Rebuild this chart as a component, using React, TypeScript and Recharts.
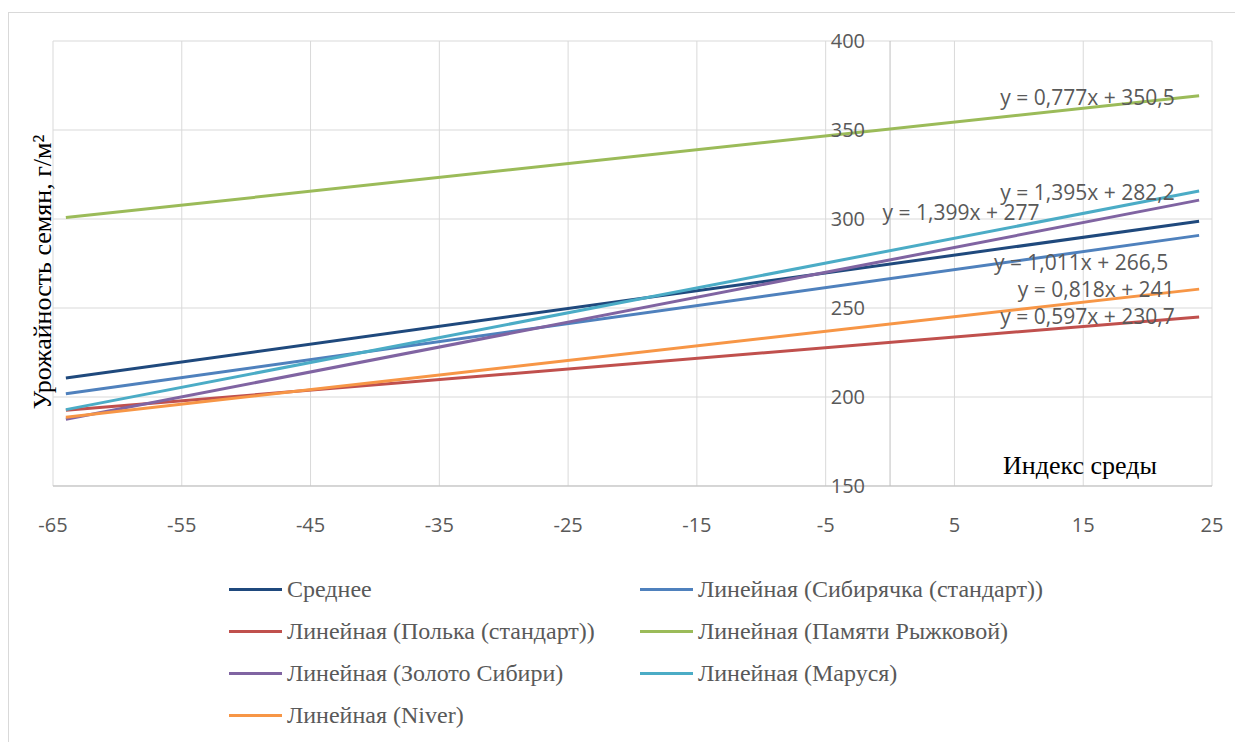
import React from 'react';
import { LineChart, Line, XAxis, YAxis, CartesianGrid, ReferenceLine, ReferenceDot } from 'recharts';

// ── 데이터 (picture에서 읽은 값) ─────────────────────────────
const xEnds = [-64, 24];
const avgValues = [210.7, 298.7];
const sibValues = [201.8, 290.8];
const polkaValues = [192.5, 245.0];
const ryzhkovaValues = [300.8, 369.2];
const zolotoValues = [187.5, 310.6];
const marusyaValues = [192.9, 315.7];
const niverValues = [188.6, 260.6];

const xTicks = [-65, -55, -45, -35, -25, -15, -5, 5, 15, 25];
const yTicks = [150, 200, 250, 300, 350, 400];

const seriesNames = [
  'Среднее',
  'Линейная (Сибирячка (стандарт))',
  'Линейная (Полька (стандарт))',
  'Линейная (Памяти Рыжковой)',
  'Линейная (Золото Сибири)',
  'Линейная (Маруся)',
  'Линейная (Niver)',
];
const seriesKeys = ['avg', 'sib', 'polka', 'ryzhkova', 'zoloto', 'marusya', 'niver'];
const seriesColors = ['#1f497d', '#4f81bd', '#c0504d', '#9bbb59', '#8064a2', '#4bacc6', '#f79646'];
const seriesValues = [avgValues, sibValues, polkaValues, ryzhkovaValues, zolotoValues, marusyaValues, niverValues];

// equation text and where its right edge sits (data coords)
const eqTexts = [
  'y = 0,777x + 350,5',
  'y = 1,395x + 282,2',
  'y = 1,399x + 277',
  'y = 1,011x + 266,5',
  'y = 0,818x + 241',
  'y = 0,597x + 230,7',
];
const eqX = [22.1, 22.1, 11.6, 21.6, 22.1, 22.1];
const eqY = [368, 314.6, 303.4, 275.3, 260.1, 245];

const data = xEnds.map((x, i) => {
  const row: Record<string, number> = { x };
  seriesKeys.forEach((k, s) => {
    row[k] = seriesValues[s][i];
  });
  return row;
});

const SANS = '"Open Sans", sans-serif';
const SERIF = '"Liberation Serif", "Times New Roman", serif';
const GREY_TEXT = '#595959';

const App: React.FC = () => {
  return (
    <div style={{ paddingTop: 4 }}>
      <div
        style={{
          position: 'relative',
          width: 1235,
          height: 740,
          borderTop: '1px solid #d9d9d9',
          borderLeft: '1px solid #d9d9d9',
        }}
      >
        <LineChart width={1234} height={560} data={data} margin={{ top: 28, right: 31, left: 44, bottom: 27 }}>
          <CartesianGrid stroke="#d9d9d9" />
          <XAxis
            type="number"
            dataKey="x"
            domain={[-65, 25]}
            ticks={xTicks}
            height={60}
            tickLine={false}
            tickSize={6}
            tickMargin={26}
            axisLine={{ stroke: '#bfbfbf' }}
            tick={{ fill: GREY_TEXT, fontSize: 20, fontFamily: SANS }}
          />
          <YAxis type="number" domain={[150, 400]} ticks={yTicks} hide />
          <ReferenceLine x={0} stroke="#bfbfbf" />

          {yTicks.map((v) => (
            <ReferenceDot
              key={'yt' + v}
              x={0}
              y={v}
              r={0}
              fill="none"
              stroke="none"
              label={{ value: String(v), position: 'left', offset: 25, fill: GREY_TEXT, fontSize: 20, fontFamily: SANS }}
            />
          ))}

          {seriesKeys.map((k, s) => (
            <Line
              key={k}
              type="linear"
              dataKey={k}
              name={seriesNames[s]}
              stroke={seriesColors[s]}
              strokeWidth={3}
              dot={false}
              activeDot={false}
              isAnimationActive={false}
            />
          ))}

          {eqTexts.map((t, i) => (
            <ReferenceDot
              key={'eq' + i}
              x={eqX[i]}
              y={eqY[i]}
              r={0}
              fill="none"
              stroke="none"
              label={{ value: t, position: 'left', offset: 0, fill: GREY_TEXT, fontSize: 21, fontFamily: SANS }}
            />
          ))}

          <ReferenceDot
            x={14.75}
            y={150}
            r={0}
            fill="none"
            stroke="none"
            label={{ value: 'Индекс среды', position: 'top', offset: 12, fill: '#000', fontSize: 26, fontFamily: SERIF }}
          />
        </LineChart>

        {/* y axis title */}
        <div
          style={{
            position: 'absolute',
            left: 34 - 200,
            top: 259 - 13,
            width: 400,
            height: 26,
            lineHeight: '26px',
            textAlign: 'center',
            transform: 'rotate(-90deg)',
            fontFamily: SERIF,
            fontSize: 26,
            color: '#000',
            whiteSpace: 'nowrap',
          }}
        >
          Урожайность семян, г/м²
        </div>

        {/* legend, 2 columns */}
        {seriesNames.map((name, i) => {
          const col = i % 2;
          const row = Math.floor(i / 2);
          return (
            <div
              key={name}
              style={{
                position: 'absolute',
                left: col === 0 ? 220 : 631,
                top: 576 + row * 42.3 - 14,
                height: 28,
                display: 'flex',
                alignItems: 'center',
                whiteSpace: 'nowrap',
              }}
            >
              <span style={{ display: 'inline-block', width: 53, height: 3, background: seriesColors[i], marginRight: 5 }} />
              <span style={{ fontFamily: SERIF, fontSize: 24, color: GREY_TEXT }}>{name}</span>
            </div>
          );
        })}
      </div>
    </div>
  );
};

export default App;
